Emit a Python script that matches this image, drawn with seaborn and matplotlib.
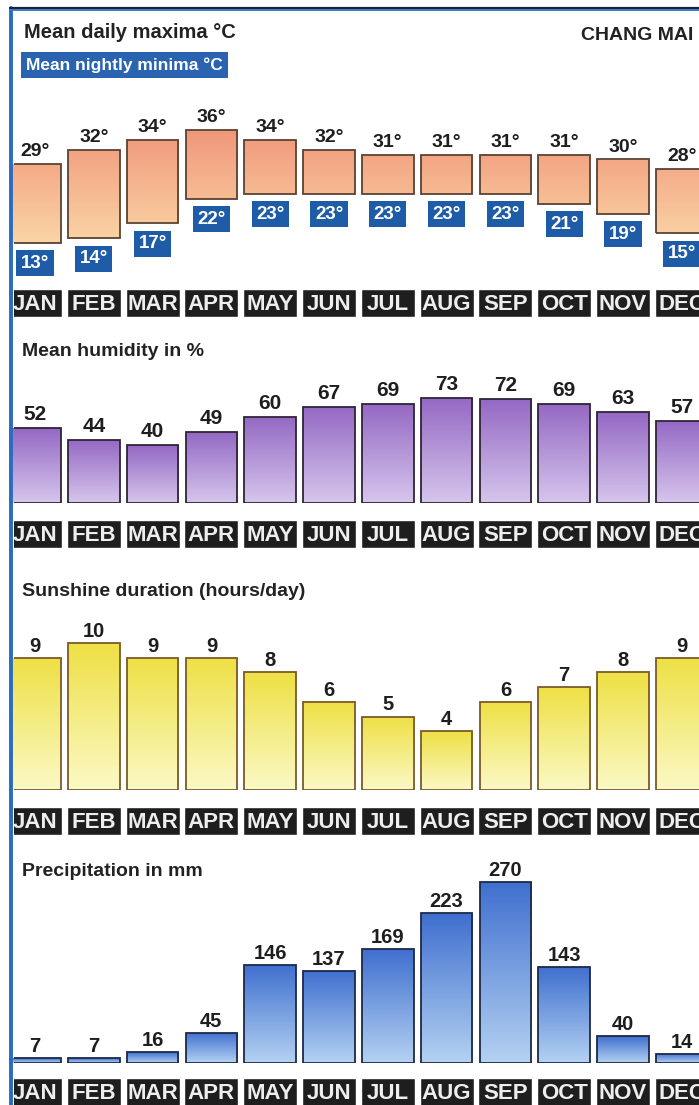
import numpy as np
import matplotlib
matplotlib.use('Agg')
import matplotlib.pyplot as plt
import seaborn as sns
from matplotlib.colors import LinearSegmentedColormap
from matplotlib import font_manager as fm
from matplotlib.lines import Line2D

# ---------------- data ----------------
months = ["JAN", "FEB", "MAR", "APR", "MAY", "JUN", "JUL", "AUG", "SEP", "OCT", "NOV", "DEC"]
temp_max = [29, 32, 34, 36, 34, 32, 31, 31, 31, 31, 30, 28]
temp_min = [13, 14, 17, 22, 23, 23, 23, 23, 23, 21, 19, 15]
humidity = [52, 44, 40, 49, 60, 67, 69, 73, 72, 69, 63, 57]
sunshine = [9, 10, 9, 9, 8, 6, 5, 4, 6, 7, 8, 9]
precip = [7, 7, 16, 45, 146, 137, 169, 223, 270, 143, 40, 14]

sns.set_theme(style='white')


def has_font(name):
    try:
        fm.findfont(fm.FontProperties(family=name), fallback_to_default=False)
        return True
    except Exception:
        return False


MAIN = 'Liberation Sans' if has_font('Liberation Sans') else 'DejaVu Sans'
plt.rcParams['font.family'] = [MAIN, 'DejaVu Sans']

W, H = 699, 1105
fig = plt.figure(figsize=(W / 100, H / 100), dpi=100)
fig.patch.set_facecolor('white')

X0, X1 = 14, 699
C0, STEP = 35, 58.8
XLIM = ((X0 - C0) / STEP, (X1 - C0) / STEP)
PT = 0.72  # points per pixel


def px_axes(y_top, y_bot):
    return fig.add_axes([X0 / W, 1 - y_bot / H, (X1 - X0) / W, (y_bot - y_top) / H])


def value_axes(y_top, y_bot, base_px, scale):
    ax = px_axes(y_top, y_bot)
    ylim = ((base_px - y_bot) / scale, (base_px - y_top) / scale)
    return ax, ylim


def bar_panel(ax, heights, ylim, c_top, c_bot, edge, bottoms=None, grad_range=None):
    sns.barplot(x=months, y=heights, ax=ax, width=0.88, color=c_top,
                edgecolor=edge, linewidth=1.3, errorbar=None, saturation=1)
    patches = list(ax.patches)
    if bottoms is not None:
        for p, b in zip(patches, bottoms):
            p.set_y(b)
    cmap = LinearSegmentedColormap.from_list('g', [c_bot, c_top])
    grad = np.linspace(0, 1, 256).reshape(-1, 1)
    for p in patches:
        x, y, w, h = p.get_x(), p.get_y(), p.get_width(), p.get_height()
        if grad_range is None:
            ext = (x, x + w, y, y + h)
        else:
            ext = (x, x + w, grad_range[0], grad_range[1])
        im = ax.imshow(grad, extent=ext, origin='lower', cmap=cmap, aspect='auto',
                       zorder=1.5, interpolation='bilinear')
        im.set_clip_path(p)
        p.set_facecolor('none')
        p.set_zorder(2)
    ax.set_xlim(*XLIM)
    ax.set_ylim(*ylim)
    ax.axis('off')
    return patches


def top_labels(ax, patches, labels, gap_px, size):
    for p, lab in zip(patches, labels):
        ax.annotate(lab, xy=(p.get_x() + p.get_width() / 2, p.get_y() + p.get_height()),
                    xytext=(0, gap_px * PT), textcoords='offset points',
                    ha='center', va='baseline', fontsize=size, fontweight='bold',
                    color='#1e1e1e', annotation_clip=False)


def month_strip(y_top):
    ax = px_axes(y_top, y_top + 28)
    ax.bar(range(12), [1] * 12, width=0.92, color='#1e1e1e')
    for i, m in enumerate(months):
        ax.text(i, 0.45, m, color='#eeeeee', ha='center', va='center', fontsize=16,
                fontweight='bold')
    ax.set_xlim(*XLIM)
    ax.set_ylim(0, 1)
    ax.axis('off')


def ftext(x, y, s, **kw):
    fig.text(x / W, 1 - y / H, s, **kw)


# ---------------- temperature panel ----------------
ax_t, ylim_t = value_axes(95, 288, 306.8, 4.91)
t_heights = [mx - mn for mx, mn in zip(temp_max, temp_min)]
pt = bar_panel(ax_t, t_heights, ylim_t, '#f09478', '#fbd8a8', '#5a4232',
               bottoms=temp_min, grad_range=(12, 37))
top_labels(ax_t, pt, [f"{v}°" for v in temp_max], 8, 14)
for p, v in zip(pt, temp_min):
    ax_t.annotate(f"{v}°", xy=(p.get_x() + p.get_width() / 2, p.get_y()),
                  xytext=(0, -12 * PT), textcoords='offset points', ha='center', va='top',
                  fontsize=13.5, fontweight='bold', color='white', annotation_clip=False,
                  bbox=dict(boxstyle='square,pad=0.24', fc='#1f5ca8', ec='none'))

ftext(24, 33, "Mean daily maxima °C", fontsize=14.5, fontweight='bold', color='#222222', va='center')
ftext(26, 65, "Mean nightly minima °C", fontsize=12.5, fontweight='bold', color='white', va='center',
      bbox=dict(boxstyle='square,pad=0.3', fc='#2a64b0', ec='none'))
ftext(693, 35, "CHANG MAI", fontsize=14, fontweight='bold', color='#222222', va='center', ha='right')
month_strip(289)

# ---------------- humidity panel ----------------
ax_h, ylim_h = value_axes(330, 503, 503, 1.44)
ph = bar_panel(ax_h, humidity, ylim_h, '#9468c4', '#d6c6ec', '#2e2436')
top_labels(ax_h, ph, [str(v) for v in humidity], 8, 15)
ftext(22, 352, "Mean humidity in %", fontsize=14, fontweight='bold', color='#222222', va='center')
month_strip(520)

# ---------------- sunshine panel ----------------
ax_s, ylim_s = value_axes(605, 790, 790, 14.7)
ps = bar_panel(ax_s, sunshine, ylim_s, '#eee044', '#fbf9c6', '#7a5a2a')
top_labels(ax_s, ps, [str(v) for v in sunshine], 6, 14.5)
ftext(22, 591, "Sunshine duration (hours/day)", fontsize=14, fontweight='bold', color='#222222', va='center')
month_strip(807)

# ---------------- precipitation panel ----------------
ax_p, ylim_p = value_axes(845, 1063, 1063, 0.672)
pp = bar_panel(ax_p, precip, ylim_p, '#3f6fcf', '#b4d2f2', '#1c2a48')
top_labels(ax_p, pp, [str(v) for v in precip], 6, 14.5)
ftext(22, 871, "Precipitation in mm", fontsize=14, fontweight='bold', color='#222222', va='center')
month_strip(1078)

# ---------------- frame ----------------
fig.add_artist(Line2D([11 / W, 11 / W], [0, 1 - 8 / H], color='#2a6cc0', lw=2.8,
                      transform=fig.transFigure))
fig.add_artist(Line2D([10 / W, 1], [1 - 7.5 / H, 1 - 7.5 / H], color='#1a2438', lw=1.6,
                      transform=fig.transFigure))
fig.add_artist(Line2D([10 / W, 1], [1 - 10 / H, 1 - 10 / H], color='#3a78c8', lw=1.4,
                      transform=fig.transFigure))

fig.savefig('out.png', dpi=100, facecolor='white')
